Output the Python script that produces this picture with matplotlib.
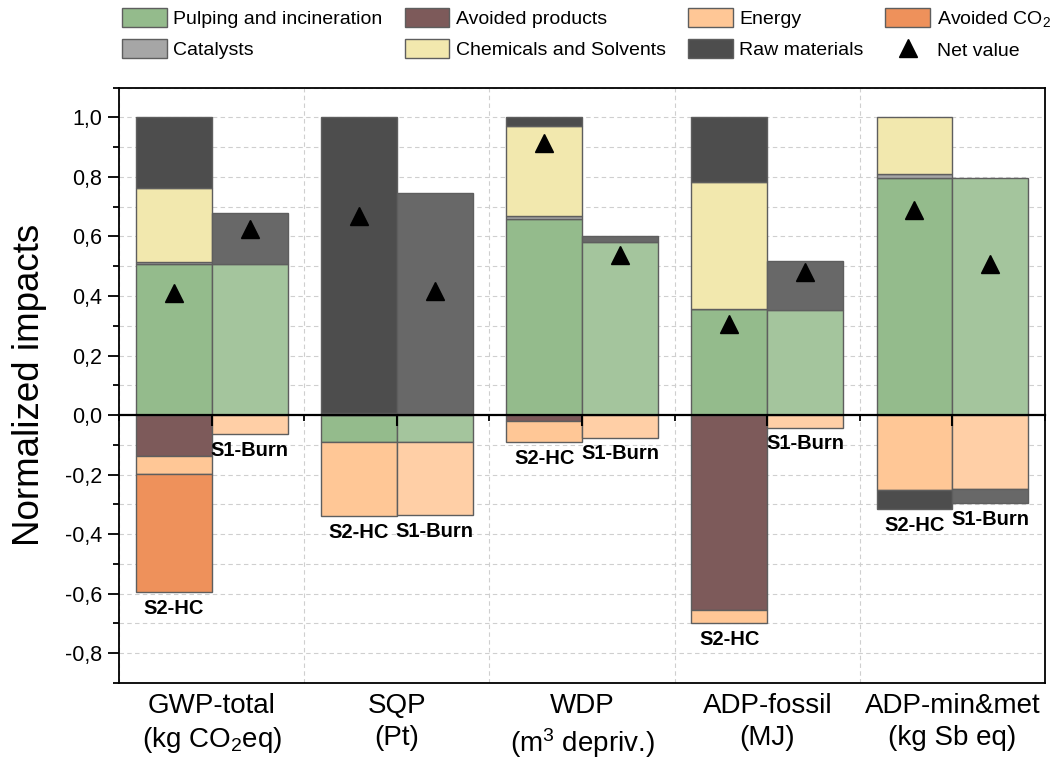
import numpy as np
import matplotlib as mpl
mpl.use('Agg')
import matplotlib.pyplot as plt
from matplotlib.patches import Patch
from matplotlib.lines import Line2D
from matplotlib.ticker import MultipleLocator, FuncFormatter
from matplotlib.colors import to_rgb

plt.rcParams['font.family'] = ['Liberation Sans', 'DejaVu Sans']
plt.rcParams['mathtext.default'] = 'regular'

categories = ['GWP-total\n(kg CO$_2$eq)', 'SQP\n(Pt)', 'WDP\n(m$^3$ depriv.)',
              'ADP-fossil\n(MJ)', 'ADP-min&met\n(kg Sb eq)']
scenarios = ['S2-HC', 'S1-Burn']
components = ['Pulping and incineration', 'Catalysts', 'Chemicals and Solvents',
              'Avoided products', 'Energy', 'Avoided CO$_2$', 'Raw materials']

# signed contributions, one list per component, order of categories above
s2_pulping   = [0.507, -0.090, 0.660, 0.355, 0.798]
s2_catalysts = [0.006, 0.001, 0.008, 0.003, 0.011]
s2_chemicals = [0.251, 0.005, 0.302, 0.424, 0.191]
s2_avoided   = [-0.138, 0.0, -0.019, -0.655, 0.0]
s2_energy    = [-0.061, -0.249, -0.073, -0.044, -0.252]
s2_avco2     = [-0.396, 0.0, 0.0, 0.0, 0.0]
s2_raw       = [0.236, 0.994, 0.030, 0.218, -0.064]
s2_net       = [0.41, 0.668, 0.914, 0.306, 0.688]

s1_pulping   = [0.506, -0.090, 0.582, 0.354, 0.798]
s1_catalysts = [0.0, 0.0, 0.0, 0.0, 0.0]
s1_chemicals = [0.0, 0.0, 0.0, 0.0, 0.0]
s1_avoided   = [0.0, 0.0, 0.0, 0.0, 0.0]
s1_energy    = [-0.065, -0.247, -0.076, -0.043, -0.249]
s1_avco2     = [0.0, 0.0, 0.0, 0.0, 0.0]
s1_raw       = [0.174, 0.746, 0.020, 0.163, -0.047]
s1_net       = [0.626, 0.417, 0.537, 0.48, 0.507]

data = {
    'S2-HC': [s2_pulping, s2_catalysts, s2_chemicals, s2_avoided, s2_energy, s2_avco2, s2_raw],
    'S1-Burn': [s1_pulping, s1_catalysts, s1_chemicals, s1_avoided, s1_energy, s1_avco2, s1_raw],
}
nets = {'S2-HC': s2_net, 'S1-Burn': s1_net}

colors = ['#94BB8C', '#A6A6A6', '#F2E8AE', '#7D5A5A', '#FFC796', '#EE915B', '#4D4D4D']
edge = '#5E5E5E'


def lighten(c, f=0.15):
    r = np.array(to_rgb(c))
    return tuple(r * (1 - f) + f)


def comma(v, p):
    s = '%.1f' % v
    if s == '-0.0':
        s = '0.0'
    return s.replace('.', ',')


fig = plt.figure(figsize=(10.54, 7.62), dpi=100)
ax = fig.add_axes([0.113, 0.1037, 0.8785, 0.7813])

x = np.arange(len(categories))
w = 0.41
offsets = {'S2-HC': -w / 2, 'S1-Burn': w / 2}

for sc in scenarios:
    pos = np.zeros(len(x))
    neg = np.zeros(len(x))
    for comp, col, vals in zip(components, colors, data[sc]):
        fc = col if sc == 'S2-HC' else lighten(col)
        for i, v in enumerate(vals):
            if v == 0:
                continue
            if v > 0:
                ax.bar(x[i] + offsets[sc], v, w, bottom=pos[i], color=fc,
                       edgecolor=edge, linewidth=1.0, zorder=2)
                pos[i] += v
            else:
                ax.bar(x[i] + offsets[sc], v, w, bottom=neg[i], color=fc,
                       edgecolor=edge, linewidth=1.0, zorder=2)
                neg[i] += v
    ax.plot(x + offsets[sc], nets[sc], ls='none', marker='^', color='black',
            markersize=12.5, zorder=4)
    for i in range(len(x)):
        ax.text(x[i] + offsets[sc], neg[i] - 0.022, sc, ha='center', va='top',
                fontsize=14.5, fontweight='bold', zorder=5)

ax.set_xlim(-0.5, 4.5)
ax.set_ylim(-0.9, 1.1)
ax.set_xticks(x)
ax.set_xticklabels(categories, fontsize=20, linespacing=1.3)
ax.set_xticks(np.arange(-0.5, 5, 1), minor=True)
ax.tick_params(axis='x', which='both', length=0, pad=7)

ax.yaxis.set_major_locator(MultipleLocator(0.2))
ax.yaxis.set_minor_locator(MultipleLocator(0.1))
ax.yaxis.set_major_formatter(FuncFormatter(comma))
ax.set_yticks(np.arange(-0.8, 1.01, 0.2))
ax.tick_params(axis='y', which='major', length=8, width=1.3, labelsize=15.5, pad=4)
ax.tick_params(axis='y', which='minor', length=4.5, width=1.3)
ax.set_ylabel('Normalized impacts', fontsize=26.5, labelpad=13)

ax.grid(which='both', axis='y', color='#CFCFCF', ls=(0, (4, 3)), lw=0.8, zorder=0)
ax.grid(which='minor', axis='x', color='#CFCFCF', ls=(0, (4, 3)), lw=0.8, zorder=0)
ax.set_axisbelow(True)
for s in ax.spines.values():
    s.set_linewidth(1.3)

# zero line with ticks at category centres and boundaries
zero_pos = (0 - ax.get_ylim()[0]) / (ax.get_ylim()[1] - ax.get_ylim()[0])
sec = ax.secondary_xaxis(zero_pos)
sec.set_xticks(x)
sec.set_xticks(np.arange(-0.5, 5, 1), minor=True)
sec.tick_params(which='major', length=8, width=1.5, labelbottom=False, labeltop=False)
sec.tick_params(which='minor', length=4, width=1.3)
sec.spines['bottom'].set_linewidth(1.6)
sec.spines['top'].set_linewidth(1.6)
sec.set_zorder(6)

handles = [Patch(facecolor=c, edgecolor=edge, linewidth=1.0) for c in colors]
handles.append(Line2D([], [], ls='none', marker='^', color='black', markersize=12.5))
labels = components + ['Net value']
# legend fills column by column
order = [0, 1, 3, 2, 4, 6, 5, 7]
fig.legend([handles[i] for i in order], [labels[i] for i in order],
           loc='upper left', bbox_to_anchor=(0.1157, 0.990), ncol=4,
           frameon=False, fontsize=14, borderpad=0, handlelength=2.3,
           handleheight=1.15, handletextpad=0.35, columnspacing=1.12,
           labelspacing=0.55, borderaxespad=0)

plt.savefig('out.png', dpi=100)
